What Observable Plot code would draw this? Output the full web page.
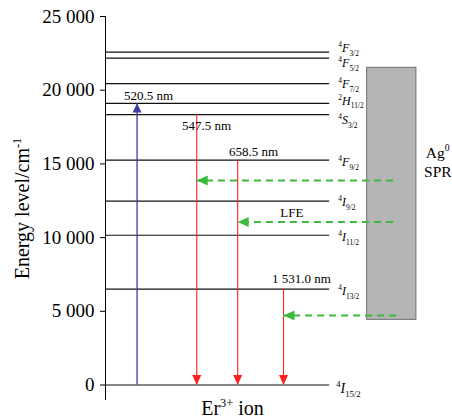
<!DOCTYPE html>
<html><head><meta charset="utf-8">
<script src="https://cdn.jsdelivr.net/npm/d3@7"></script>
<script src="https://cdn.jsdelivr.net/npm/@observablehq/plot@0.6"></script>
<style>body{margin:0;background:#fff}</style>
</head><body><div id="chart"></div>
<script>
// ---- data ----
const yTicks = [0, 5000, 10000, 15000, 20000, 25000];
const levelNames = ["^{4}*F*_{3/2}","^{4}*F*_{5/2}","^{4}*F*_{7/2}","^{2}*H*_{11/2}","^{4}*S*_{3/2}","^{4}*F*_{9/2}","^{4}*I*_{9/2}","^{4}*I*_{11/2}","^{4}*I*_{13/2}","^{4}*I*_{15/2}"];
const levelEnergy = [22580, 22170, 20450, 19100, 18350, 15250, 12470, 10160, 6510, 0];
const levelLabelEnergy = [22830, 21810, 20390, 19280, 17940, 15090, 12380, 10010, 6340, -240];

const pumpX = [9.1];
const pumpTop = [19100];
const pumpText = ["520.5 nm"];
const pumpTextX = [12.4];
const pumpTextY = [19640];

const emitX = [26.3, 38.1, 51.3];
const emitFrom = [18350, 15250, 6510];
const emitText = ["547.5 nm", "658.5 nm", "1 531.0 nm"];
const emitTextX = [29.1, 42.7, 56.5];
const emitTextY = [17560, 15790, 7200];

const lfeEnergy = [13870, 11060, 4720];
const lfeStartX = [83, 83, 83.9];
const lfeTipX = [26.3, 38.1, 51.3];
const lfeText = ["LFE"];
const lfeTextX = [53.7];
const lfeTextY = [11700];

const sprX1 = [75.4], sprX2 = [89.6], sprBottom = [4420], sprTop = [21520];
const sprText = ["Ag^{0}", "SPR"];
const sprTextX = [92.3, 91.8];
const sprTextY = [15770, 14480];

const yLabel = "Energy level/cm^{-1}";
const xLabel = "Er^{3+} ion";

// ---- tables ----
const levels = levelNames.map((n, i) => ({n, e: levelEnergy[i], le: levelLabelEnergy[i]}));
const pump = pumpX.map((x, i) => ({x, top: pumpTop[i], t: pumpText[i], tx: pumpTextX[i], ty: pumpTextY[i]}));
const emit = emitX.map((x, i) => ({x, from: emitFrom[i], t: emitText[i], tx: emitTextX[i], ty: emitTextY[i]}));
const lfe = lfeEnergy.map((e, i) => ({e, start: lfeStartX[i], tip: lfeTipX[i]}));
const lfeLab = lfeText.map((t, i) => ({t, x: lfeTextX[i], y: lfeTextY[i]}));
const spr = sprX1.map((x1, i) => ({x1, x2: sprX2[i], y1: sprBottom[i], y2: sprTop[i]}));
const sprLab = sprText.map((t, i) => ({t, x: sprTextX[i], y: sprTextY[i]}));

const FONT = "'Liberation Serif', 'Times New Roman', serif";
const RED = "#ff1f1f", BLUE = "#3c3ca0", GREEN = "#3dba3d";
const downHead = {draw(c){c.moveTo(0,0);c.lineTo(-4.5,-10);c.lineTo(4.5,-10);c.closePath();}};
const upHead = {draw(c){c.moveTo(0,0);c.lineTo(-4.5,9);c.lineTo(4.5,9);c.closePath();}};
const leftHead = {draw(c){c.moveTo(0,0);c.lineTo(11,-5);c.lineTo(11,5);c.closePath();}};

const svg = Plot.plot({
  width: 452, height: 419,
  marginLeft: 105, marginRight: 0, marginTop: 16, marginBottom: 19,
  style: {fontFamily: FONT, fontSize: "19px", background: "#fff", color: "#000"},
  x: {domain: [0, 100], axis: null},
  y: {domain: [-1050, 25000], ticks: yTicks, tickSize: 5, tickPadding: 6, label: null,
      tickFormat: d => d3.format(",")(d).replace(/,/g, " ")},
  marks: [
    Plot.ruleX([0], {stroke: "#000", strokeWidth: 1}),
    Plot.rect(spr, {x1: "x1", x2: "x2", y1: "y1", y2: "y2", fill: "#b5b5b5", stroke: "#707070", strokeWidth: 1}),
    Plot.ruleY(levels, {y: "e", x1: 0, x2: 64.6, stroke: "#111", strokeWidth: 1.2}),
    Plot.ruleX(pump, {x: "x", y1: 0, y2: "top", stroke: BLUE, strokeWidth: 1.3}),
    Plot.dot(pump, {x: "x", y: "top", symbol: upHead, fill: BLUE, stroke: "none"}),
    Plot.ruleX(emit, {x: "x", y1: "from", y2: 0, stroke: RED, strokeWidth: 1.1}),
    Plot.dot(emit, {x: "x", y: 0, symbol: downHead, fill: RED, stroke: "none"}),
    Plot.ruleY(lfe, {y: "e", x1: "start", x2: "tip", stroke: GREEN, strokeWidth: 2, strokeDasharray: "7,5"}),
    Plot.dot(lfe, {x: "tip", y: "e", symbol: leftHead, fill: GREEN, stroke: "none"}),
    Plot.text(pump, {x: "tx", y: "ty", text: "t", fontSize: 13, fontFamily: FONT}),
    Plot.text(emit, {x: "tx", y: "ty", text: "t", fontSize: 13, fontFamily: FONT}),
    Plot.text(lfeLab, {x: "x", y: "y", text: "t", fontSize: 13, fontFamily: FONT}),
    Plot.text(levels.filter(d => d.e !== 0), {x: 67.1, y: "le", text: "n", textAnchor: "start", fontSize: 12, fontFamily: FONT}),
    Plot.text(levels.filter(d => d.e === 0), {x: 66.5, y: "le", text: "n", textAnchor: "start", fontSize: 14, fontFamily: FONT}),
    Plot.text(sprLab, {x: "x", y: "y", text: "t", textAnchor: "start", fontSize: 15.5, fontFamily: FONT}),
    Plot.text([yLabel], {frameAnchor: "left", textAnchor: "middle", lineAnchor: "middle", rotate: -90, dx: -83, fontSize: 20, fontFamily: FONT}),
    Plot.text([xLabel], {x: 36.6, frameAnchor: "bottom", lineAnchor: "middle", dy: 8, fontSize: 20, fontFamily: FONT})
  ]
});
document.getElementById("chart").appendChild(svg);

// rich text: ^{sup}, _{sub}, *italic*
const NS = "http://www.w3.org/2000/svg";
function richify(el) {
  const s = el.textContent;
  const fs = parseFloat(getComputedStyle(el).fontSize) || 12;
  const re = /\^\{([^}]*)\}|_\{([^}]*)\}|\*([^*]*)\*|([^^_*]+)/g;
  let m, cur = 0;
  while (el.firstChild) el.removeChild(el.firstChild);
  while ((m = re.exec(s))) {
    const ts = document.createElementNS(NS, "tspan");
    let shift = 0, txt;
    if (m[1] !== undefined) { shift = -0.42 * fs; txt = m[1]; ts.setAttribute("font-size", 0.62 * fs); }
    else if (m[2] !== undefined) { shift = 0.3 * fs; txt = m[2]; ts.setAttribute("font-size", 0.62 * fs); }
    else if (m[3] !== undefined) { txt = m[3]; ts.setAttribute("font-style", "italic"); }
    else txt = m[4];
    const dy = shift - cur;
    if (dy) ts.setAttribute("dy", dy);
    cur = shift;
    ts.textContent = txt;
    el.appendChild(ts);
  }
}
svg.querySelectorAll("text").forEach(el => {
  const s = el.textContent;
  if (s.includes("^{") || s.includes("_{") || s.includes("*")) richify(el);
});
</script>
</body></html>
